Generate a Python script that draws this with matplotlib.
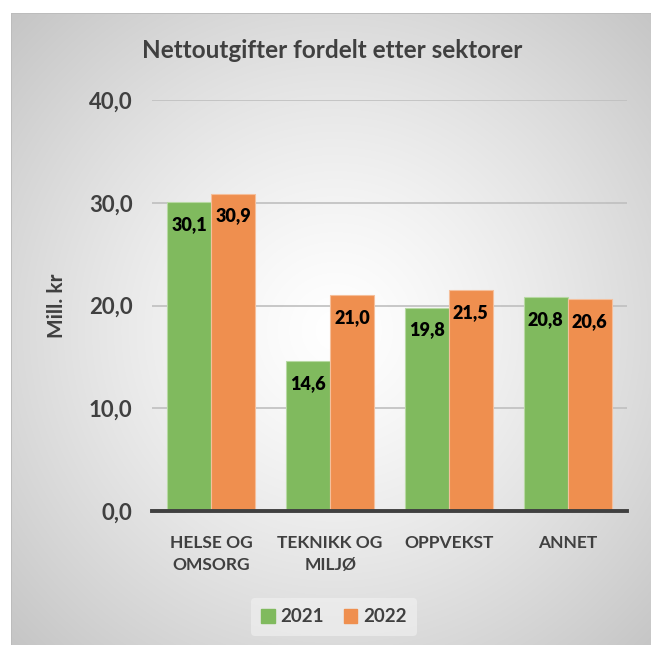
import numpy as np
import matplotlib.pyplot as plt
from matplotlib.patches import Patch

plt.rcParams['font.family'] = ['Lato', 'DejaVu Sans']
plt.rcParams['font.weight'] = 'bold'

# data
sektorer = ['HELSE OG\nOMSORG', 'TEKNIKK OG\nMILJØ', 'OPPVEKST', 'ANNET']
aar = ['2021', '2022']
verdi_2021 = [30.1, 14.6, 19.8, 20.8]
verdi_2022 = [30.9, 21.0, 21.5, 20.6]

W, H = 651, 645
fig = plt.figure(figsize=(W / 100, H / 100), dpi=100)

# radial grey background like excel chart area
bg = fig.add_axes([0, 0, 1, 1], zorder=-5)
yy, xx = np.mgrid[0:H, 0:W]
r = np.hypot(xx - 335, yy - 330) / np.hypot(335, 330)
img = 1 - 0.24 * np.clip(r, 0, 1) ** 1.3
img = np.dstack([img] * 3)
img[:13, :, :] = 1.0
img[:, :11, :] = 1.0
img[13, 11:, :] = 0.74
img[13:, 11, :] = 0.74
bg.imshow(img, extent=[0, W, H, 0], aspect='auto')
bg.axis('off')

ax = fig.add_axes([152 / W, 1 - 511 / H, (627 - 152) / W, (511 - 100) / H])
ax.set_facecolor('none')

x = np.arange(len(sektorer))
bw = 0.37
gronn = '#80ba5e'
oransje = '#ef8f4f'
b1 = ax.bar(x - bw / 2, verdi_2021, width=bw, color=gronn, edgecolor='#b7d9a3', linewidth=0.8, zorder=3)
b2 = ax.bar(x + bw / 2, verdi_2022, width=bw, color=oransje, edgecolor='#f5bf9b', linewidth=0.8, zorder=3)

for bars, vals in [(b1, verdi_2021), (b2, verdi_2022)]:
    for b, v in zip(bars, vals):
        ax.annotate(('%.1f' % v).replace('.', ','), (b.get_x() + b.get_width() / 2, v),
                    xytext=(0, -10), textcoords='offset points', ha='center', va='top',
                    fontsize=13, fontweight='heavy', color='black', zorder=4)

ax.set_xlim(-0.5, len(sektorer) - 0.5)
ax.set_ylim(0, 40)
ax.set_yticks([0, 10, 20, 30, 40])
ax.set_yticklabels([('%.1f' % t).replace('.', ',') for t in [0, 10, 20, 30, 40]])
ax.grid(axis='y', color='#bfbfbf', linewidth=1.2, zorder=0)
ax.set_axisbelow(True)
for s in ['top', 'right', 'left']:
    ax.spines[s].set_visible(False)
ax.spines['bottom'].set_color('#404040')
ax.spines['bottom'].set_linewidth(2.8)
ax.spines['bottom'].set_zorder(5)
ax.tick_params(axis='y', length=0, pad=14, labelsize=16, labelcolor='#404040')
ax.tick_params(axis='x', length=0, pad=17, labelsize=12.5, labelcolor='#404040')
ax.set_xticks(x)
ax.set_xticklabels(sektorer, linespacing=1.5)

ax.set_ylabel('Mill. kr', fontsize=15, color='#404040', fontweight='bold', labelpad=16)
fig.text(332 / W, 1 - 50 / H, 'Nettoutgifter fordelt etter sektorer', ha='center', va='center',
         fontsize=17.5, fontweight='bold', color='#404040')

handles = [Patch(color=gronn), Patch(color=oransje)]
leg = fig.legend(handles, aar, loc='center', bbox_to_anchor=(334 / W, 1 - 617 / H), ncol=2,
                 frameon=True, fontsize=13.5, handlelength=0.7, handleheight=0.7,
                 handletextpad=0.3, columnspacing=1.1, borderpad=0.55)
leg.get_frame().set_facecolor('#f2f2f2')
leg.get_frame().set_edgecolor('none')
leg.get_frame().set_alpha(0.6)
for t in leg.get_texts():
    t.set_color('#404040')

fig.savefig('out.png', dpi=100)
